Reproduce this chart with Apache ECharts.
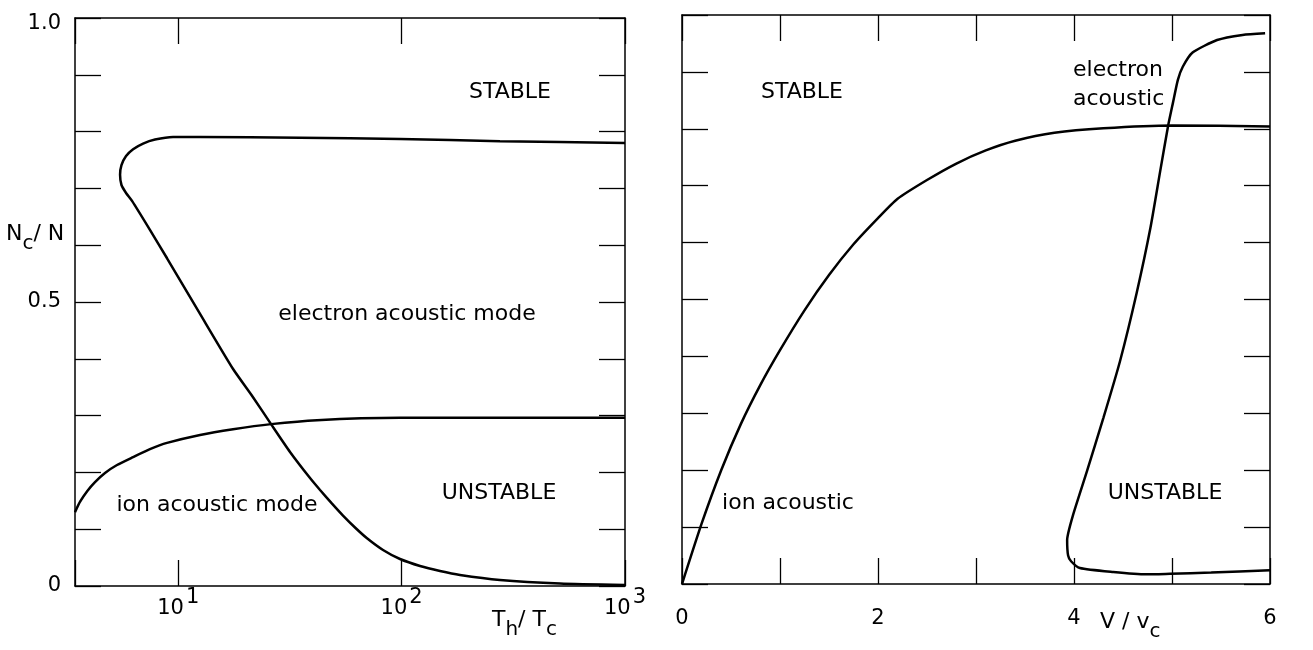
<!DOCTYPE html>
<html><head><meta charset="utf-8">
<script src="https://cdn.jsdelivr.net/npm/echarts@6/dist/echarts.min.js"></script>
<style>html,body{margin:0;padding:0;background:#fff}#c{width:1313px;height:650px}</style>
</head><body><div id="c"></div>
<script>
// ---- data ----
// Left panel: x = Th/Tc (log), y = Nc/N
const leftElectronAcoustic = [[1000,0.780],[275.6,0.783],[98.35,0.787],[35.1,0.789],[12.52,0.7905],[9.48,0.7905],[7.87,0.786],[6.96,0.779],[6.28,0.769],[5.84,0.757],[5.57,0.741],[5.49,0.724],[5.57,0.706],[5.84,0.692],[6.21,0.678],[7.47,0.627],[8.91,0.577],[12.52,0.479],[17.60,0.382],[21.39,0.335],[26.03,0.285],[31.65,0.236],[38.90,0.190],[43.13,0.169],[48.80,0.145],[54.65,0.124],[61.85,0.103],[70.00,0.0840],[82.55,0.0634],[98.35,0.0475],[120.9,0.0352],[148.5,0.0264],[182.5,0.0194],[275.6,0.0106],[511.7,0.0044],[1000,0.0018]];
const leftIonAcoustic = [[3.45,0.130],[3.63,0.148],[3.91,0.167],[4.24,0.183],[4.70,0.199],[5.32,0.213],[6.28,0.227],[7.47,0.241],[8.91,0.252],[12.52,0.266],[17.60,0.276],[26.03,0.285],[41.8,0.292],[98.35,0.296],[1000,0.296]];
// Right panel: x = V/vc, y = Nc/N
const rightIonAcoustic = [[0,0],[0.2,0.106],[0.4,0.200],[0.6,0.281],[0.8,0.350],[1.0,0.411],[1.25,0.481],[1.5,0.543],[1.75,0.597],[2.0,0.643],[2.2,0.677],[2.5,0.710],[2.8,0.739],[3.1,0.762],[3.4,0.779],[3.8,0.793],[4.3,0.801],[5.0,0.806],[6.0,0.804]];
const rightElectronAcoustic = [[5.95,0.968],[5.72,0.965],[5.46,0.956],[5.21,0.934],[5.11,0.909],[5.06,0.886],[5.01,0.846],[4.96,0.805],[4.88,0.726],[4.78,0.626],[4.64,0.512],[4.47,0.392],[4.30,0.292],[4.13,0.197],[3.99,0.121],[3.93,0.077],[3.94,0.050],[3.97,0.040],[4.06,0.028],[4.40,0.021],[4.74,0.017],[4.98,0.018],[5.40,0.020],[6.0,0.024]];
// tick labels
const leftYTickValues = [0, 0.5, 1];
const leftYTickLabels = ['0', '0.5', '1.0'];
const leftXRange = [3.45, 1000];
const rightXRange = [0, 6];
const rightXLabelValues = [0, 2, 4, 6];

// ---- chart ----
const FONT = 'DejaVu Sans';
const black = '#000';
const chart = echarts.init(document.getElementById('c'), null, {renderer: 'canvas'});

function yLabel(v) {
  for (let i = 0; i < leftYTickValues.length; i++) {
    if (Math.abs(v - leftYTickValues[i]) < 1e-9) {
      return v === 1 ? '{t|' + leftYTickLabels[i] + '}' : leftYTickLabels[i];
    }
  }
  return '';
}
function logLabel(v) {
  const p = Math.round(Math.log10(v));
  if (Math.abs(Math.log10(v) - p) > 1e-6) return '';
  return '{b|10}{s|' + p + '}';
}
const axisLine = {show: true, onZero: false, lineStyle: {color: black, width: 1.5}};
const tick = {show: true, inside: true, length: 26, lineStyle: {color: black, width: 1.3}};

const xAxes = [
  {gridIndex: 0, type: 'log', logBase: 10, min: leftXRange[0], max: leftXRange[1], position: 'bottom',
   axisLine, axisTick: tick, splitLine: {show: false}, minorTick: {show: false},
   axisLabel: {formatter: logLabel, margin: 1, color: black, fontFamily: FONT, fontSize: 21,
     rich: {b: {fontSize: 21, fontFamily: FONT, color: black}, s: {fontSize: 21, fontFamily: FONT, color: black, padding: [0, 0, 22, 2]}}}},
  {gridIndex: 0, type: 'log', logBase: 10, min: leftXRange[0], max: leftXRange[1], position: 'top',
   axisLine, axisTick: tick, splitLine: {show: false}, axisLabel: {show: false}},
  {gridIndex: 1, type: 'value', min: rightXRange[0], max: rightXRange[1], interval: 1, position: 'bottom',
   axisLine, axisTick: tick, splitLine: {show: false},
   axisLabel: {formatter: v => rightXLabelValues.indexOf(v) >= 0 ? String(v) : '', margin: 24, color: black, fontFamily: FONT, fontSize: 21}},
  {gridIndex: 1, type: 'value', min: rightXRange[0], max: rightXRange[1], interval: 1, position: 'top',
   axisLine, axisTick: tick, splitLine: {show: false}, axisLabel: {show: false}}
];
const yAxes = [
  {gridIndex: 0, type: 'value', min: 0, max: 1, interval: 0.1, position: 'left',
   axisLine, axisTick: tick, splitLine: {show: false},
   axisLabel: {formatter: yLabel, margin: 14, color: black, fontFamily: FONT, fontSize: 21,
     rich: {t: {fontSize: 21, fontFamily: FONT, color: black, padding: [12, 0, 0, 0]}}}},
  {gridIndex: 0, type: 'value', min: 0, max: 1, interval: 0.1, position: 'right',
   axisLine, axisTick: tick, splitLine: {show: false}, axisLabel: {show: false}},
  {gridIndex: 1, type: 'value', min: 0, max: 1, interval: 0.1, position: 'left',
   axisLine, axisTick: tick, splitLine: {show: false}, axisLabel: {show: false}},
  {gridIndex: 1, type: 'value', min: 0, max: 1, interval: 0.1, position: 'right',
   axisLine, axisTick: tick, splitLine: {show: false}, axisLabel: {show: false}}
];
function curve(name, data, xi, yi) {
  return {name, type: 'line', data, xAxisIndex: xi, yAxisIndex: yi, showSymbol: false, symbol: 'none',
    smooth: 0.2, clip: false, lineStyle: {color: black, width: 2.5}, silent: true, animation: false};
}
function txt(text, x, y, align, rich) {
  const st = {text, x, y, fill: black, font: '22px "' + FONT + '"', textAlign: align || 'center', textVerticalAlign: 'middle'};
  if (rich) st.rich = rich;
  return {type: 'text', style: st, silent: true};
}
const subRich = {
  m: {fontSize: 22, fontFamily: FONT, color: black},
  s: {fontSize: 20, fontFamily: FONT, color: black, padding: [20, 0, 0, 0]}
};
chart.setOption({
  animation: false,
  backgroundColor: '#fff',
  grid: [
    {left: 75, top: 18, width: 550, height: 568, containLabel: false},
    {left: 682, top: 15, width: 588, height: 569, containLabel: false}
  ],
  xAxis: xAxes,
  yAxis: yAxes,
  series: [
    curve('electron acoustic mode', leftElectronAcoustic, 0, 0),
    curve('ion acoustic mode', leftIonAcoustic, 0, 0),
    curve('ion acoustic', rightIonAcoustic, 2, 2),
    curve('electron acoustic', rightElectronAcoustic, 2, 2)
  ],
  graphic: [
    txt('STABLE', 510, 92),
    txt('electron acoustic mode', 407, 314),
    txt('UNSTABLE', 499, 493),
    txt('ion acoustic mode', 217, 505),
    txt('STABLE', 802, 92),
    txt('electron', 1073, 70, 'left'),
    txt('acoustic', 1073, 99, 'left'),
    txt('ion acoustic', 788, 503),
    txt('UNSTABLE', 1165, 493),
    txt('{m|N}{s|c}{m|/ N}', 6, 234, 'left', subRich),
    txt('{m|T}{s|h}{m|/ T}{s|c}', 492, 620, 'left', subRich),
    txt('{m|V / v}{s|c}', 1100, 622, 'left', subRich)
  ]
});
</script></body></html>
